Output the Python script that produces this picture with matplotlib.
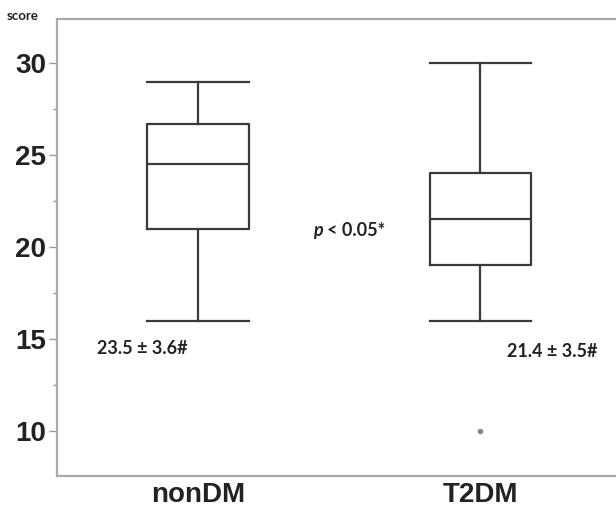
import matplotlib.pyplot as plt

groups = ['nonDM', 'T2DM']
whisker_lo = [16, 16]
q1 = [21, 19]
median = [24.5, 21.5]
q3 = [26.7, 24]
whisker_hi = [29, 30]
outliers = [[], [10]]
mean_sd = ['23.5 \u00b1 3.6#', '21.4 \u00b1 3.5#']
yticks = [10, 15, 20, 25, 30]

text_font = ['Lato', 'DejaVu Sans']

stats = []
for i in range(len(groups)):
    stats.append(dict(whislo=whisker_lo[i], q1=q1[i], med=median[i], q3=q3[i],
                      whishi=whisker_hi[i], fliers=outliers[i], label=groups[i]))

fig = plt.figure(figsize=(6.16, 5.11), dpi=100)
ax = fig.add_axes([57/616, 1 - 476/511, 1 - 57/616, (476 - 19)/511])

line = dict(color='#3a3a3a', linewidth=1.6)
ax.bxp(stats, positions=[1, 2], widths=0.36, boxprops=line, medianprops=line,
       whiskerprops=line, capprops=line, capwidths=0.36,
       flierprops=dict(marker='o', markersize=3, markerfacecolor='#888888',
                       markeredgecolor='#888888'))

ax.set_xlim(0.5, 2.48)
ax.set_ylim(7.55, 32.4)
ax.set_yticks(yticks)
ax.set_yticks([12.5, 17.5, 22.5, 27.5], minor=True)
ax.set_xticks([1, 2])
ax.set_xticklabels(groups)

for lab in ax.get_yticklabels() + ax.get_xticklabels():
    lab.set_fontfamily('Liberation Sans')
    lab.set_fontweight('bold')
    lab.set_fontsize(20)
    lab.set_color('#222222')

ax.tick_params(axis='y', which='major', length=6, width=1, color='#999999', pad=2)
ax.tick_params(axis='y', which='minor', length=3, width=1, color='#999999')
ax.tick_params(axis='x', length=0, pad=4)

for s in ['left', 'bottom', 'top']:
    ax.spines[s].set_color('#aaaaaa')
    ax.spines[s].set_linewidth(1.6)
ax.spines['right'].set_visible(False)

ax.text(0.64, 14.5, mean_sd[0], family=text_font, fontweight='bold',
        fontsize=13, color='#222222', va='center', ha='left')
ax.text(2.095, 14.3, mean_sd[1], family=text_font, fontweight='bold',
        fontsize=13, color='#222222', va='center', ha='left')
ax.text(1.442, 20.9, 'p', family=text_font, fontweight='bold', style='italic',
        fontsize=13, color='#222222', va='center', ha='right')
ax.text(1.455, 20.9, '< 0.05*', family=text_font, fontweight='bold',
        fontsize=13, color='#222222', va='center', ha='left')
fig.text(7/616, 1 - 16/511, 'score', family=text_font, fontweight='bold',
         fontsize=9.5, color='#222222', va='center', ha='left')

fig.savefig('out.png', dpi=100)
